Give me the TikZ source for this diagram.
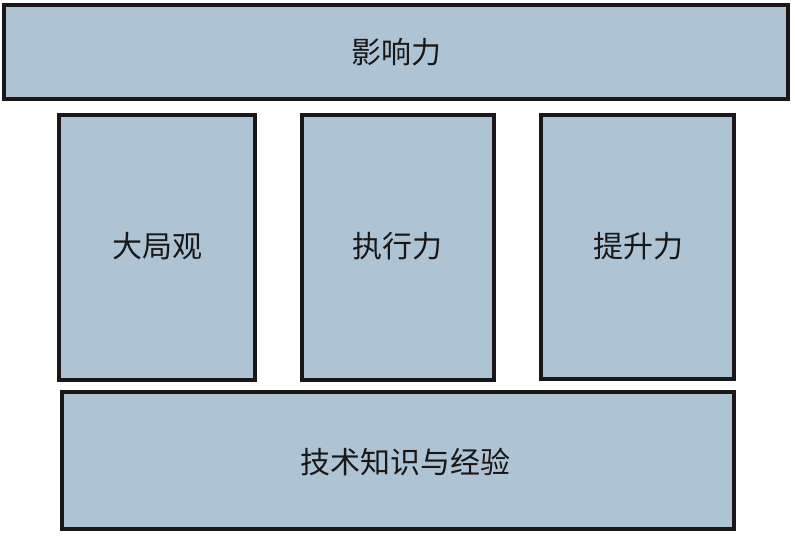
\documentclass[tikz,border=0pt]{standalone}
\usepackage{fontspec}
\newfontfamily\cjk{Noto Sans CJK SC}
\definecolor{boxfill}{HTML}{AEC4D5}
\definecolor{boxline}{HTML}{1A1716}
\tikzset{
  blk/.style={draw=boxline, fill=boxfill, line width=4.5pt, line join=miter},
  lbl/.style={font=\cjk\fontsize{30}{33}\selectfont, text=boxline}
}
\begin{document}
\begin{tikzpicture}[x=1pt,y=-1pt]
\useasboundingbox (0,0) rectangle (795,539);
\draw[blk] (4,5) rectangle (788,99);
\draw[blk] (59,115) rectangle (255,380);
\draw[blk] (302,115) rectangle (494,380);
\draw[blk] (541,115) rectangle (734,379);
\draw[blk] (62,392) rectangle (734,529);
\node[lbl] (t) at (396,52) {影响力};
\node[lbl] (a) at (157,246) {大局观};
\node[lbl] (b) at (397,246) {执行力};
\node[lbl] (c) at (638,246) {提升力};
\node[lbl] (d) at (405,462) {技术知识与经验};
\end{tikzpicture}
\end{document}
